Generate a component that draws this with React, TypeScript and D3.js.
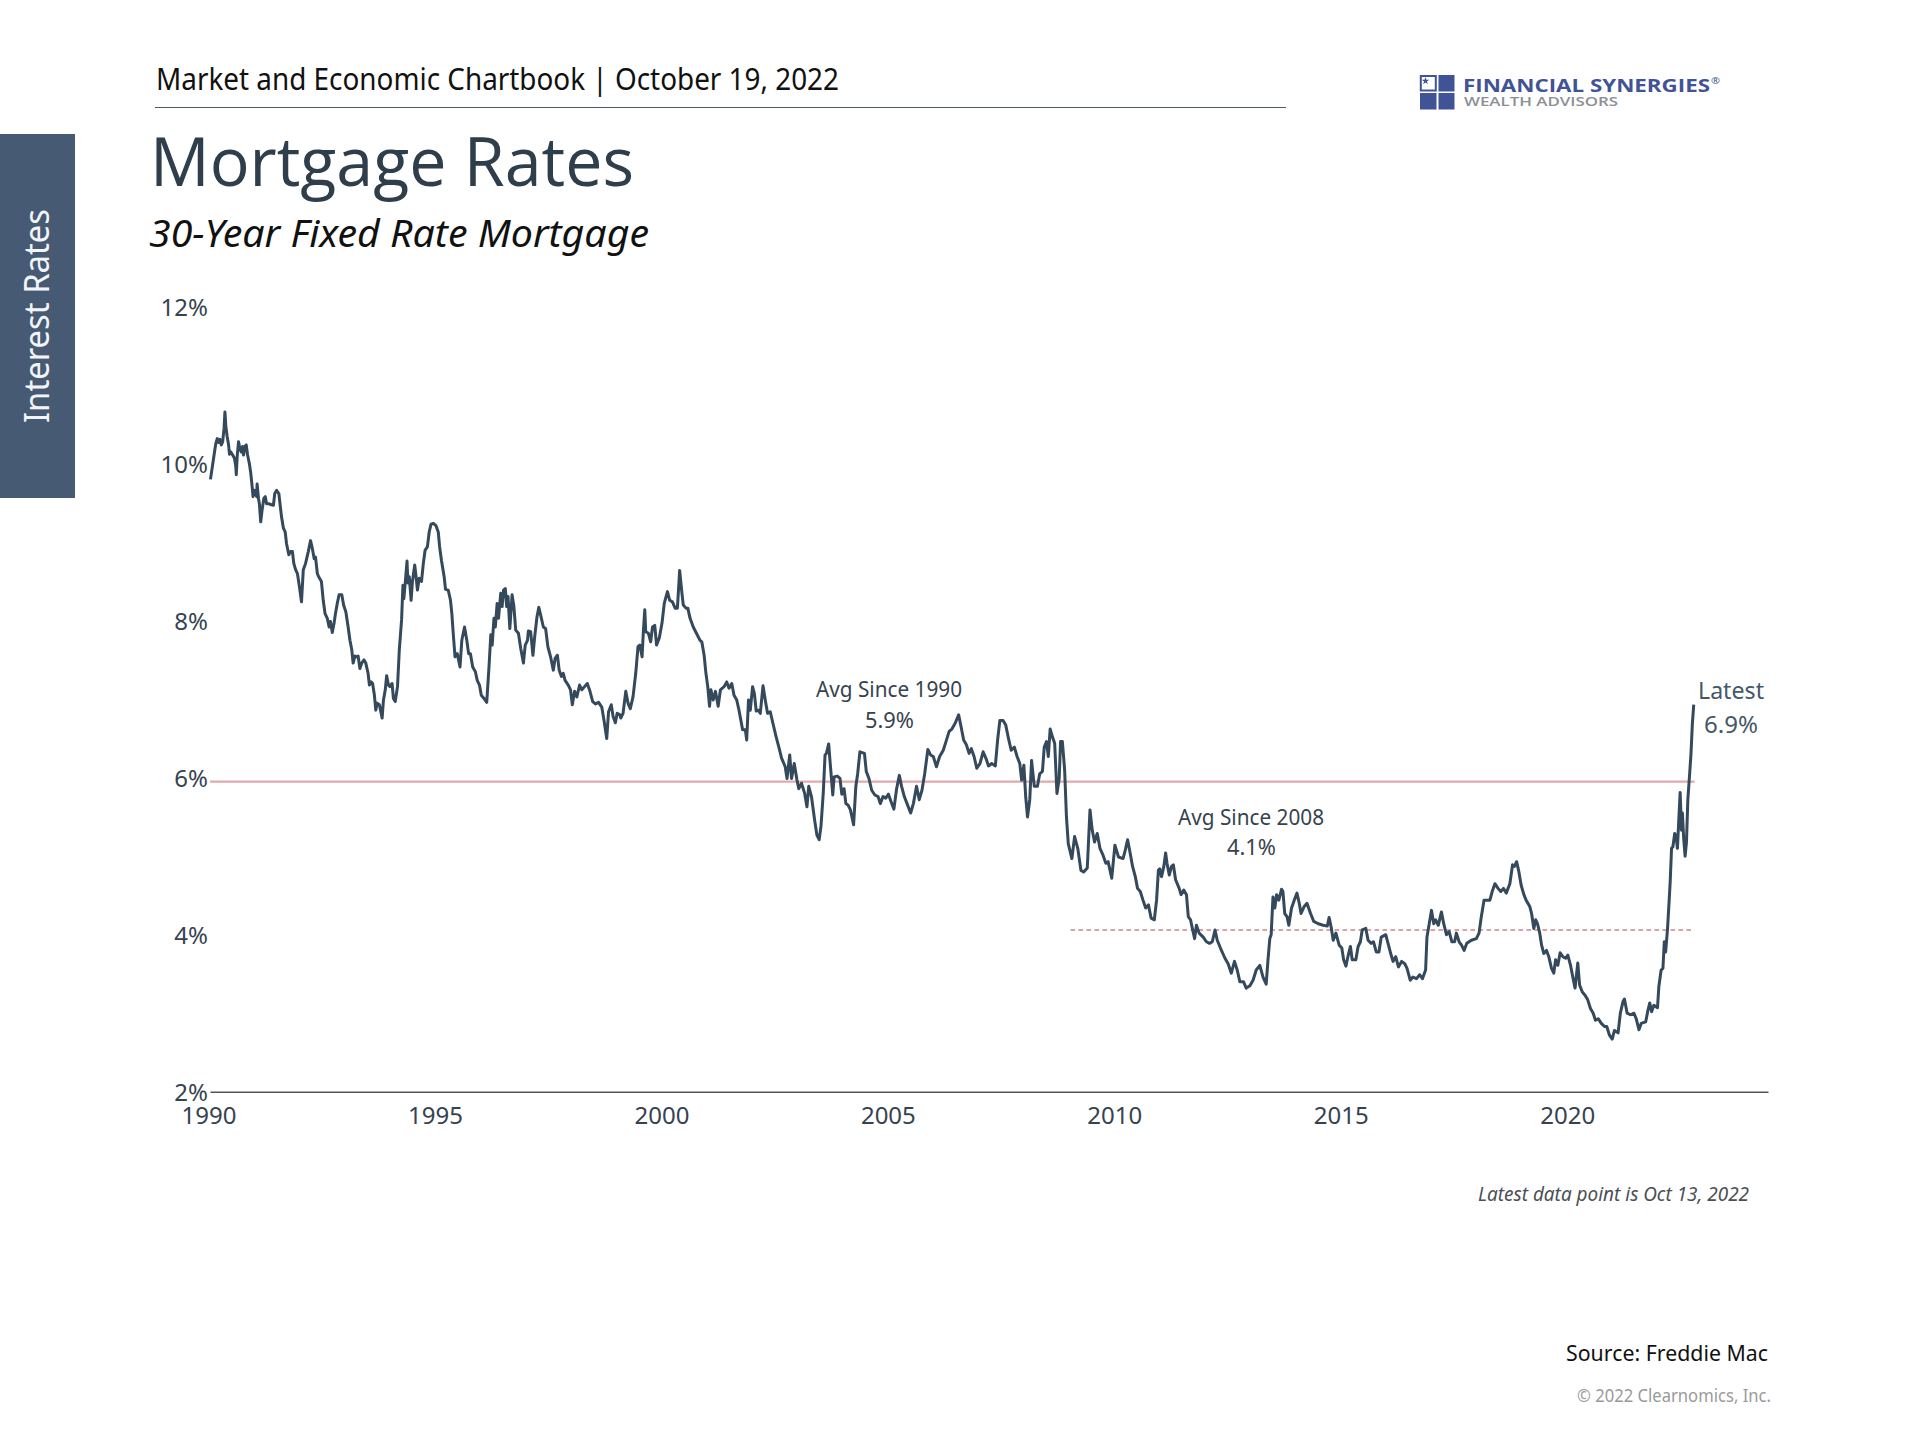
import React, { useEffect, useRef } from 'react';
import * as d3 from 'd3';

type Point = [number, number];

const WIDTH = 1920;
const HEIGHT = 1440;

// [decimal year, rate %]
const rates1990s: Point[] = [
  [1990.01,9.80],[1990.09,10.11],[1990.11,10.19],[1990.13,10.26],[1990.16,10.32],[1990.19,10.27],[1990.22,10.31],[1990.25,10.24],[1990.28,10.28],[1990.31,10.45],[1990.33,10.66],[1990.35,10.47],[1990.38,10.34],[1990.41,10.24],[1990.43,10.12],[1990.46,10.15],[1990.50,10.11],[1990.54,10.07],[1990.57,9.96],[1990.58,9.86],[1990.60,10.09],[1990.63,10.28],[1990.66,10.19],[1990.69,10.15],[1990.72,10.22],[1990.74,10.11],[1990.77,10.22],[1990.80,10.24],[1990.83,10.11],[1990.87,10.00],[1990.90,9.88],[1990.93,9.71],[1990.95,9.58],[1990.99,9.66],
  [1991.03,9.58],[1991.04,9.74],[1991.07,9.56],[1991.09,9.49],[1991.12,9.26],[1991.15,9.41],[1991.19,9.56],[1991.22,9.58],[1991.25,9.49],[1991.30,9.49],[1991.34,9.48],[1991.40,9.47],[1991.43,9.62],[1991.47,9.66],[1991.52,9.62],[1991.55,9.47],[1991.58,9.32],[1991.62,9.18],[1991.66,9.13],[1991.69,8.98],[1991.74,8.84],[1991.78,8.88],[1991.82,8.88],[1991.85,8.73],[1991.89,8.65],[1991.93,8.60],[1991.97,8.45],
  [1992.02,8.24],[1992.06,8.65],[1992.11,8.73],[1992.17,8.88],[1992.22,9.02],[1992.26,8.92],[1992.30,8.79],[1992.33,8.81],[1992.37,8.60],[1992.40,8.56],[1992.46,8.50],[1992.50,8.26],[1992.54,8.09],[1992.59,8.03],[1992.63,7.92],[1992.66,7.99],[1992.70,7.85],[1992.74,7.97],[1992.77,8.09],[1992.81,8.22],[1992.85,8.33],[1992.91,8.33],[1992.95,8.20],
  [1993.00,8.11],[1993.05,7.92],[1993.09,7.75],[1993.13,7.63],[1993.16,7.46],[1993.20,7.55],[1993.24,7.54],[1993.27,7.55],[1993.31,7.39],[1993.35,7.46],[1993.40,7.50],[1993.44,7.46],[1993.49,7.33],[1993.52,7.18],[1993.56,7.22],[1993.59,7.20],[1993.63,7.05],[1993.66,6.86],[1993.69,6.95],[1993.74,6.93],[1993.80,6.76],[1993.83,6.99],[1993.87,7.12],[1993.90,7.30],[1993.94,7.18],[1993.97,7.16],
  [1994.02,7.20],[1994.05,7.01],[1994.09,6.97],[1994.14,7.16],[1994.18,7.63],[1994.23,8.01],[1994.26,8.45],[1994.28,8.28],[1994.31,8.48],[1994.35,8.76],[1994.37,8.48],[1994.40,8.56],[1994.44,8.26],[1994.47,8.50],[1994.52,8.71],[1994.55,8.56],[1994.58,8.39],[1994.62,8.54],[1994.67,8.50],[1994.71,8.73],[1994.75,8.90],[1994.80,8.94],[1994.84,9.13],[1994.88,9.23],[1994.93,9.24],[1994.99,9.21],
  [1995.04,9.13],[1995.07,8.94],[1995.11,8.77],[1995.17,8.56],[1995.20,8.40],[1995.26,8.39],[1995.31,8.26],[1995.34,8.09],[1995.37,7.84],[1995.41,7.54],[1995.46,7.58],[1995.52,7.41],[1995.56,7.75],[1995.62,7.92],[1995.67,7.75],[1995.71,7.58],[1995.75,7.58],[1995.80,7.41],[1995.86,7.35],[1995.90,7.24],[1995.95,7.18],[1995.99,7.05],
  [1996.05,7.01],[1996.11,6.96],[1996.16,7.41],[1996.20,7.82],[1996.23,7.69],[1996.27,8.03],[1996.30,7.92],[1996.34,8.22],[1996.37,8.03],[1996.42,8.35],[1996.45,8.18],[1996.48,8.39],[1996.52,8.41],[1996.55,8.18],[1996.58,8.31],[1996.62,7.90],[1996.67,8.33],[1996.71,8.18],[1996.75,7.88],[1996.81,7.84],[1996.86,7.65],[1996.92,7.46],[1996.96,7.69],
  [1997.01,7.75],[1997.03,7.87],[1997.08,7.86],[1997.13,7.56],[1997.17,7.80],[1997.22,8.05],[1997.26,8.17],[1997.31,8.05],[1997.36,7.92],[1997.41,7.90],[1997.46,7.67],[1997.52,7.54],[1997.58,7.37],[1997.62,7.52],[1997.67,7.56],[1997.71,7.37],[1997.76,7.29],[1997.80,7.33],[1997.84,7.24],[1997.91,7.18],[1997.96,7.12],
  [1998.00,6.93],[1998.05,7.10],[1998.10,7.03],[1998.16,7.18],[1998.21,7.12],[1998.27,7.16],[1998.33,7.20],[1998.39,7.10],[1998.45,6.97],[1998.51,6.94],[1998.58,6.96],[1998.65,6.90],[1998.70,6.73],[1998.76,6.50],[1998.80,6.84],[1998.86,6.93],[1998.90,6.78],[1998.95,6.70],[1998.99,6.82],
  [1999.05,6.80],[1999.07,6.76],[1999.12,6.82],[1999.18,7.10],[1999.23,6.95],[1999.28,6.88],[1999.34,7.03],[1999.40,7.33],[1999.45,7.67],[1999.49,7.69],[1999.54,7.54],[1999.57,7.88],[1999.60,8.14],[1999.62,7.86],[1999.68,7.84],[1999.73,7.73],[1999.77,7.92],[1999.82,7.94],[1999.86,7.69],[1999.92,7.78],[1999.98,7.97],
];

const rates2000s: Point[] = [
  [2000.03,8.22],[2000.10,8.37],[2000.15,8.26],[2000.21,8.24],[2000.27,8.16],[2000.32,8.16],[2000.37,8.64],[2000.42,8.35],[2000.45,8.20],[2000.51,8.16],[2000.55,8.16],[2000.60,8.03],[2000.67,7.92],[2000.74,7.84],[2000.82,7.75],[2000.86,7.73],[2000.91,7.56],[2000.95,7.33],[2000.99,7.16],
  [2001.03,6.91],[2001.06,7.12],[2001.11,6.99],[2001.16,7.10],[2001.22,6.91],[2001.27,7.12],[2001.35,7.16],[2001.41,7.22],[2001.46,7.14],[2001.52,7.20],[2001.57,7.05],[2001.63,6.99],[2001.68,6.86],[2001.76,6.61],[2001.82,6.61],[2001.85,6.48],[2001.89,6.99],[2001.93,6.86],[2001.98,7.16],
  [2002.02,7.07],[2002.06,6.85],[2002.11,6.86],[2002.15,6.82],[2002.21,7.17],[2002.26,6.99],[2002.31,6.82],[2002.37,6.84],[2002.43,6.69],[2002.50,6.52],[2002.56,6.39],[2002.62,6.25],[2002.70,6.14],[2002.74,5.99],[2002.80,6.29],[2002.84,5.99],[2002.90,6.18],[2002.96,5.97],
  [2003.00,5.86],[2003.06,5.93],[2003.13,5.80],[2003.18,5.63],[2003.22,5.89],[2003.28,5.76],[2003.35,5.46],[2003.40,5.27],[2003.45,5.21],[2003.49,5.38],[2003.54,5.80],[2003.58,6.29],[2003.61,6.31],[2003.66,6.43],[2003.70,6.14],[2003.75,5.78],[2003.78,6.01],[2003.85,6.02],[2003.91,5.99],[2003.95,5.79],
  [2004.00,5.86],[2004.04,5.67],[2004.09,5.65],[2004.14,5.59],[2004.21,5.40],[2004.26,5.89],[2004.30,6.05],[2004.35,6.33],[2004.45,6.31],[2004.49,6.08],[2004.55,5.99],[2004.61,5.84],[2004.68,5.78],[2004.75,5.76],[2004.80,5.67],[2004.86,5.76],[2004.92,5.74],[2004.98,5.79],
  [2005.04,5.69],[2005.10,5.60],[2005.16,5.86],[2005.22,6.03],[2005.27,5.89],[2005.33,5.76],[2005.39,5.67],[2005.47,5.55],[2005.53,5.67],[2005.60,5.89],[2005.66,5.72],[2005.72,5.84],[2005.78,6.05],[2005.85,6.36],[2005.91,6.29],[2005.97,6.27],
  [2006.04,6.14],[2006.11,6.27],[2006.19,6.35],[2006.25,6.46],[2006.32,6.59],[2006.38,6.62],[2006.45,6.69],[2006.53,6.80],[2006.59,6.63],[2006.64,6.48],[2006.70,6.42],[2006.76,6.31],[2006.81,6.37],[2006.87,6.27],[2006.93,6.12],
  [2007.00,6.18],[2007.07,6.33],[2007.13,6.25],[2007.19,6.15],[2007.26,6.18],[2007.34,6.15],[2007.39,6.48],[2007.44,6.73],[2007.51,6.73],[2007.57,6.67],[2007.63,6.50],[2007.69,6.35],[2007.76,6.39],[2007.82,6.27],[2007.88,6.18],[2007.92,5.97],[2007.97,6.16],
  [2008.01,5.76],[2008.05,5.50],[2008.10,5.72],[2008.14,6.22],[2008.20,5.89],[2008.27,5.89],[2008.32,6.05],[2008.38,6.08],[2008.42,6.39],[2008.47,6.46],[2008.51,6.27],[2008.55,6.62],[2008.60,6.52],[2008.65,6.44],[2008.70,5.80],[2008.75,5.99],[2008.78,6.46],[2008.82,6.46],[2008.87,6.10],[2008.91,5.50],[2008.95,5.16],
  [2009.03,4.97],[2009.09,5.25],[2009.16,5.10],[2009.23,4.82],[2009.29,4.80],[2009.37,4.85],[2009.43,5.59],[2009.48,5.33],[2009.53,5.18],[2009.59,5.29],[2009.65,5.10],[2009.72,5.01],[2009.78,4.91],[2009.83,4.93],[2009.91,4.72],[2009.98,5.14],
];

const rates2010s: Point[] = [
  [2010.06,4.99],[2010.16,4.97],[2010.21,5.08],[2010.26,5.21],[2010.31,5.06],[2010.37,4.87],[2010.43,4.74],[2010.48,4.59],[2010.54,4.55],[2010.60,4.44],[2010.66,4.34],[2010.72,4.38],[2010.78,4.21],[2010.85,4.19],[2010.90,4.44],[2010.94,4.82],[2010.97,4.84],
  [2011.01,4.74],[2011.06,4.87],[2011.10,5.04],[2011.13,4.91],[2011.18,4.76],[2011.23,4.87],[2011.27,4.89],[2011.32,4.70],[2011.40,4.59],[2011.44,4.51],[2011.50,4.57],[2011.56,4.51],[2011.60,4.23],[2011.65,4.19],[2011.69,4.08],[2011.74,3.95],[2011.78,4.12],[2011.84,4.02],[2011.93,3.97],
  [2012.00,3.91],[2012.07,3.89],[2012.13,3.91],[2012.19,4.06],[2012.24,3.93],[2012.31,3.83],[2012.41,3.70],[2012.48,3.63],[2012.55,3.51],[2012.62,3.66],[2012.68,3.55],[2012.74,3.40],[2012.82,3.40],[2012.88,3.32],[2012.96,3.35],
  [2013.03,3.42],[2013.10,3.55],[2013.18,3.61],[2013.25,3.46],[2013.32,3.37],[2013.36,3.68],[2013.40,3.95],[2013.43,4.00],[2013.47,4.48],[2013.51,4.34],[2013.55,4.51],[2013.60,4.44],[2013.66,4.58],[2013.69,4.55],[2013.73,4.27],[2013.78,4.23],[2013.82,4.12],[2013.88,4.34],[2013.94,4.44],
  [2014.00,4.53],[2014.05,4.40],[2014.09,4.27],[2014.16,4.36],[2014.22,4.40],[2014.30,4.27],[2014.37,4.17],[2014.47,4.14],[2014.58,4.12],[2014.67,4.11],[2014.71,4.22],[2014.76,4.08],[2014.80,3.93],[2014.86,4.02],[2014.93,3.87],[2014.99,3.83],
  [2015.03,3.68],[2015.08,3.60],[2015.14,3.76],[2015.18,3.85],[2015.22,3.68],[2015.30,3.68],[2015.35,3.85],[2015.40,3.91],[2015.44,4.06],[2015.52,4.08],[2015.57,3.93],[2015.64,3.89],[2015.69,3.91],[2015.75,3.78],[2015.81,3.78],[2015.86,3.97],[2015.96,4.00],
  [2016.01,3.89],[2016.06,3.78],[2016.12,3.66],[2016.18,3.72],[2016.24,3.59],[2016.31,3.66],[2016.38,3.63],[2016.43,3.57],[2016.50,3.42],[2016.56,3.46],[2016.64,3.44],[2016.71,3.49],[2016.77,3.44],[2016.84,3.55],[2016.87,3.97],[2016.92,4.14],[2016.97,4.31],
  [2017.02,4.14],[2017.06,4.19],[2017.12,4.12],[2017.19,4.29],[2017.24,4.14],[2017.30,4.00],[2017.36,4.04],[2017.42,3.91],[2017.48,3.91],[2017.52,4.02],[2017.58,3.91],[2017.63,3.87],[2017.69,3.80],[2017.75,3.89],[2017.85,3.93],[2017.96,3.95],
  [2018.02,4.02],[2018.07,4.23],[2018.13,4.44],[2018.26,4.44],[2018.31,4.55],[2018.37,4.65],[2018.44,4.59],[2018.50,4.55],[2018.56,4.59],[2018.62,4.53],[2018.70,4.65],[2018.76,4.89],[2018.80,4.87],[2018.85,4.93],[2018.90,4.80],[2018.95,4.63],
  [2019.01,4.51],[2019.06,4.44],[2019.14,4.36],[2019.18,4.27],[2019.23,4.08],[2019.27,4.19],[2019.31,4.14],[2019.36,4.02],[2019.40,3.87],[2019.45,3.76],[2019.51,3.80],[2019.56,3.72],[2019.62,3.57],[2019.67,3.51],[2019.71,3.68],[2019.76,3.61],[2019.81,3.77],[2019.87,3.72],[2019.93,3.70],[2019.98,3.74],
];

const rates2020s: Point[] = [
  [2020.04,3.61],[2020.09,3.46],[2020.14,3.32],[2020.20,3.64],[2020.24,3.36],[2020.30,3.27],[2020.36,3.23],[2020.42,3.17],[2020.48,3.06],[2020.54,3.00],[2020.59,2.91],[2020.65,2.93],[2020.72,2.87],[2020.79,2.83],[2020.84,2.83],[2020.90,2.72],[2020.96,2.67],
  [2021.01,2.78],[2021.09,2.75],[2021.14,3.00],[2021.20,3.15],[2021.23,3.18],[2021.29,3.00],[2021.37,2.98],[2021.44,3.00],[2021.49,2.93],[2021.55,2.79],[2021.60,2.87],[2021.70,2.89],[2021.75,3.04],[2021.79,3.13],[2021.83,3.02],[2021.88,3.10],[2021.96,3.07],[2021.99,3.34],
  [2022.04,3.55],[2022.08,3.57],[2022.11,3.91],[2022.14,3.78],[2022.18,4.06],[2022.21,4.36],[2022.24,4.67],[2022.27,5.10],[2022.30,5.12],[2022.34,5.29],[2022.37,5.25],[2022.40,5.10],[2022.43,5.46],[2022.46,5.81],[2022.49,5.33],[2022.51,5.55],[2022.54,5.21],[2022.57,5.00],[2022.60,5.18],[2022.63,5.72],[2022.67,6.05],[2022.70,6.31],[2022.73,6.69],[2022.76,6.93],
];

const yTicks = [2, 4, 6, 8, 10, 12];
const xTicks = [1990, 1995, 2000, 2005, 2010, 2015, 2020];
const avgSince1990 = 5.95;
const avgSince2008 = 4.06;

const SANS = '"Noto Sans", sans-serif';
const INK = '#36434f';

const App = () => {
  const ref = useRef<SVGSVGElement>(null);

  useEffect(() => {
    const svg = d3.select(ref.current);
    svg.selectAll('*').remove();

    const x = d3.scaleLinear().domain([1990, 2024.4]).range([210, 1768]);
    const y = d3.scaleLinear().domain([2, 12]).range([1091.7, 306.7]);

    const label = (txt: string, px: number, py: number, size: number, len: number, color: string, italic = false, family = SANS) =>
      svg.append('text')
        .attr('x', px).attr('y', py)
        .attr('font-family', family).attr('font-size', size)
        .attr('font-style', italic ? 'italic' : 'normal')
        .attr('textLength', len).attr('lengthAdjust', 'spacingAndGlyphs')
        .attr('fill', color).text(txt);

    // header
    label('Market and Economic Chartbook | October 19, 2022', 156, 90, 30, 683, '#111');
    svg.append('line').attr('x1', 155).attr('x2', 1286).attr('y1', 107.5).attr('y2', 107.5)
      .attr('stroke', '#4a5a66').attr('stroke-width', 1.2);
    label('Mortgage Rates', 150, 186, 67, 484, '#2f3e4b', false, '"Open Sans", sans-serif');
    label('30-Year Fixed Rate Mortgage', 149, 247, 38, 500, '#111', true);

    // side tab
    svg.append('rect').attr('x', 0).attr('y', 134).attr('width', 75).attr('height', 364).attr('fill', '#465a73');
    svg.append('text')
      .attr('transform', 'translate(49,423) rotate(-90)')
      .attr('font-family', SANS).attr('font-size', 34)
      .attr('textLength', 214).attr('lengthAdjust', 'spacingAndGlyphs')
      .attr('fill', '#f2f4f7').text('Interest Rates');

    // logo
    const logo = svg.append('g').attr('fill', '#3f5396');
    logo.append('rect').attr('x', 1420.8).attr('y', 76).attr('width', 15).attr('height', 14.5)
      .attr('fill', 'none').attr('stroke', '#3f5396').attr('stroke-width', 2);
    logo.append('rect').attr('x', 1438.5).attr('y', 75).attr('width', 16).attr('height', 16.5);
    logo.append('rect').attr('x', 1420).attr('y', 93).attr('width', 16.5).attr('height', 16.5);
    logo.append('rect').attr('x', 1438.5).attr('y', 93).attr('width', 16).attr('height', 16.5);
    logo.append('path').attr('d', d3.symbol(d3.symbolStar, 18)()).attr('transform', 'translate(1425.5,81)');
    label('FINANCIAL SYNERGIES', 1463, 91.7, 17, 247, '#3f5396', false, '"Open Sans", sans-serif').attr('font-weight', 700);
    label('®', 1711, 84, 9, 9, '#3f5396');
    label('WEALTH ADVISORS', 1464, 106, 12, 154, '#8a8f96', false, '"Open Sans", sans-serif').attr('font-weight', 600);

    // axes
    const yAxis = svg.append('g').attr('transform', 'translate(210,1)')
      .call(d3.axisLeft(y).tickValues(yTicks).tickSize(0).tickPadding(2).tickFormat((d) => `${d}%`));
    yAxis.select('.domain').remove();
    yAxis.selectAll('text').attr('font-family', SANS).attr('font-size', 24).attr('fill', INK);

    const xAxis = svg.append('g').attr('transform', `translate(0,${y(2)})`)
      .call(d3.axisBottom(x).tickValues(xTicks).tickSize(0).tickPadding(15).tickFormat(d3.format('d')));
    xAxis.select('.domain').attr('stroke', '#555').attr('stroke-width', 1.5);
    xAxis.selectAll('text').attr('font-family', SANS).attr('font-size', 24).attr('fill', INK).attr('dx', -1.5);

    // averages
    svg.append('line').attr('x1', x(1990)).attr('x2', x(2022.78)).attr('y1', y(avgSince1990)).attr('y2', y(avgSince1990))
      .attr('stroke', '#e3a9ab').attr('stroke-width', 2.2);
    svg.append('line').attr('x1', x(2009)).attr('x2', x(2022.72)).attr('y1', y(avgSince2008)).attr('y2', y(avgSince2008))
      .attr('stroke', '#cf8488').attr('stroke-width', 1.6).attr('stroke-dasharray', '4.5 3.5');

    // rate line
    const series = [...rates1990s, ...rates2000s, ...rates2010s, ...rates2020s];
    const line = d3.line<Point>().x((d) => x(d[0])).y((d) => y(d[1]));
    svg.append('path').attr('d', line(series))
      .attr('fill', 'none').attr('stroke', '#34495c').attr('stroke-width', 3).attr('stroke-linejoin', 'round');

    // annotations
    label('Avg Since 1990', 816, 697, 21.5, 146, INK);
    label('5.9%', 865, 727.5, 21.5, 49, INK);
    label('Avg Since 2008', 1178, 825, 21.5, 146, INK);
    label('4.1%', 1227, 855, 21.5, 49, INK);
    label('Latest', 1698, 698.5, 24, 66, '#44586a');
    label('6.9%', 1704, 732.5, 24, 54, '#44586a');

    // footer
    label('Latest data point is Oct 13, 2022', 1478, 1200.7, 20, 271, '#4a4f55', true);
    label('Source: Freddie Mac', 1566, 1360.7, 22, 202, '#111');
    label('© 2022 Clearnomics, Inc.', 1577, 1402, 17.5, 194, '#9a9a9a');
  }, []);

  return <svg ref={ref} width={WIDTH} height={HEIGHT} style={{ position: 'absolute', left: 0, top: 0, background: '#fff' }}></svg>;
};

export default App;
